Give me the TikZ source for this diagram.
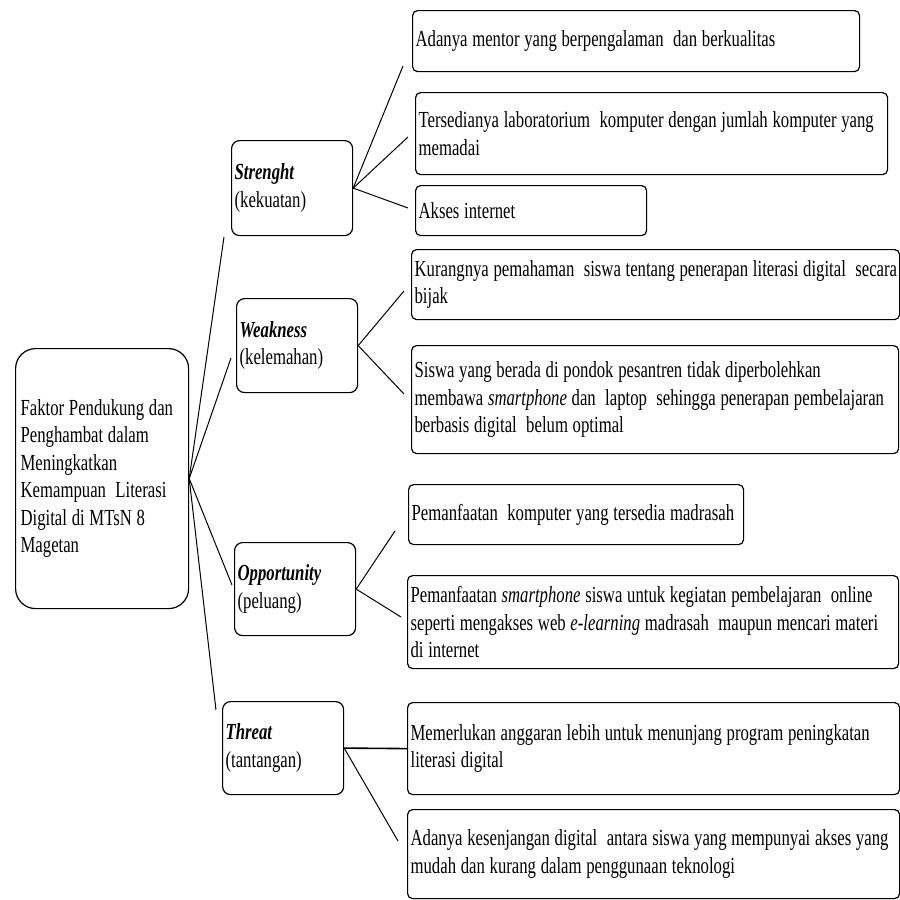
\documentclass[tikz,border=0pt]{standalone}
\usepackage{fontspec}
\setmainfont[FakeStretch=0.727]{Liberation Serif}
\newcommand{\oneline}[1]{\mbox{#1}}
\begin{document}
\begin{tikzpicture}[x=0.5pt,y=-0.5pt,
  lbl/.style={font=\fontsize{11.5}{13.75}\selectfont,
    execute at begin node={\spaceskip=2.35pt\relax\xspaceskip=2.35pt\relax}},
  rbox/.style={draw, line width=0.6pt, rounded corners=2.5pt, anchor=north west,
    align=left, inner xsep=1.5pt, inner ysep=0pt, lbl},
  sbox/.style={rbox, rounded corners=4pt},
  conn/.style={line width=0.5pt}]
\path[fill=white,use as bounding box] (0,0) rectangle (900,900);

% root
\node[rbox, rounded corners=10pt, inner xsep=2.5pt, text width=81.5pt, minimum height=130pt] (root) at (15,348)
  {\oneline{Faktor Pendukung dan}\\\oneline{Penghambat dalam}\\\oneline{Meningkatkan}\\\oneline{Kemampuan \ Literasi}\\\oneline{Digital di MTsN 8}\\\oneline{Magetan}};

% SWOT boxes
\node[sbox, text width=57.5pt, minimum height=47.5pt] (S) at (231,140) {\textbf{\textit{Strenght}}\\(kekuatan)};
\node[sbox, text width=57.5pt, minimum height=47pt] (W) at (236,298) {\textbf{\textit{Weakness}}\\(kelemahan)};
\node[sbox, text width=57.5pt, minimum height=46.5pt] (O) at (234,542) {\textbf{\textit{Opportunity}}\\(peluang)};
\node[sbox, text width=57.5pt, minimum height=46.5pt] (T) at (222,701) {\textbf{\textit{Threat}}\\(tantangan)};

% right boxes
\node[rbox, text width=220.5pt, minimum height=30.5pt] (S1) at (412,10) {\oneline{Adanya mentor yang berpengalaman \ dan berkualitas}};
\node[rbox, text width=233pt, minimum height=41pt] (S2) at (415,92) {\oneline{Tersedianya laboratorium \ komputer dengan jumlah komputer yang}\\\oneline{memadai}};
\node[rbox, text width=112.5pt, minimum height=25pt] (S3) at (415,185) {\oneline{Akses internet}};

\node[rbox, text width=241pt, minimum height=35pt] (W1) at (411,249) {\oneline{Kurangnya pemahaman \ siswa tentang penerapan literasi digital \ secara}\\\oneline{bijak}};
\node[rbox, text width=240.5pt, minimum height=54pt] (W2) at (411,345) {\oneline{Siswa yang berada di pondok pesantren tidak diperbolehkan}\\\oneline{membawa \textit{smartphone} dan \ laptop \ sehingga penerapan pembelajaran}\\\oneline{berbasis digital \ belum optimal}};

\node[rbox, text width=164.5pt, minimum height=30pt] (O1) at (408,484) {\oneline{Pemanfaatan \ komputer yang tersedia madrasah}};
\node[rbox, text width=242.5pt, minimum height=46.5pt] (O2) at (407,575) {\oneline{Pemanfaatan \textit{smartphone} siswa untuk kegiatan pembelajaran \ online}\\\oneline{seperti mengakses web \textit{e-learning} madrasah \ maupun mencari materi}\\\oneline{di internet}};

\node[rbox, text width=243pt, minimum height=46pt] (T1) at (407,702) {\oneline{Memerlukan anggaran lebih untuk menunjang program peningkatan}\\\oneline{literasi digital}};
\node[rbox, text width=243pt, minimum height=44.5pt] (T2) at (407,809) {\oneline{Adanya kesenjangan digital \ antara siswa yang mempunyai akses yang}\\\oneline{mudah dan kurang dalam penggunaan teknologi}};

% free connector ends
\coordinate (eS) at (224,237);
\coordinate (eW) at (231,358);
\coordinate (eO) at (232,585);
\coordinate (eT) at (216,710);
\coordinate (eS1) at (403,66);
\coordinate (eS2) at (408,137);
\coordinate (eS3) at (408,208);
\coordinate (eW1) at (404,291);
\coordinate (eW2) at (404,394);
\coordinate (eO1) at (395,531);
\coordinate (eO2) at (401,617);
\coordinate (eT2) at (398,841);

\draw[conn] (root.east) -- (eS);
\draw[conn] (root.east) -- (eW);
\draw[conn] (root.east) -- (eO);
\draw[conn] (root.east) -- (eT);
\draw[conn] (S.east) -- (eS1);
\draw[conn] (S.east) -- (eS2);
\draw[conn] (S.east) -- (eS3);
\draw[conn] (W.east) -- (eW1);
\draw[conn] (W.east) -- (eW2);
\draw[conn] (O.east) -- (eO1);
\draw[conn] (O.east) -- (eO2);
\draw[conn,line width=0.8pt] (T.east) -- (T1.west);
\draw[conn] (T.east) -- (eT2);
\end{tikzpicture}
\end{document}
